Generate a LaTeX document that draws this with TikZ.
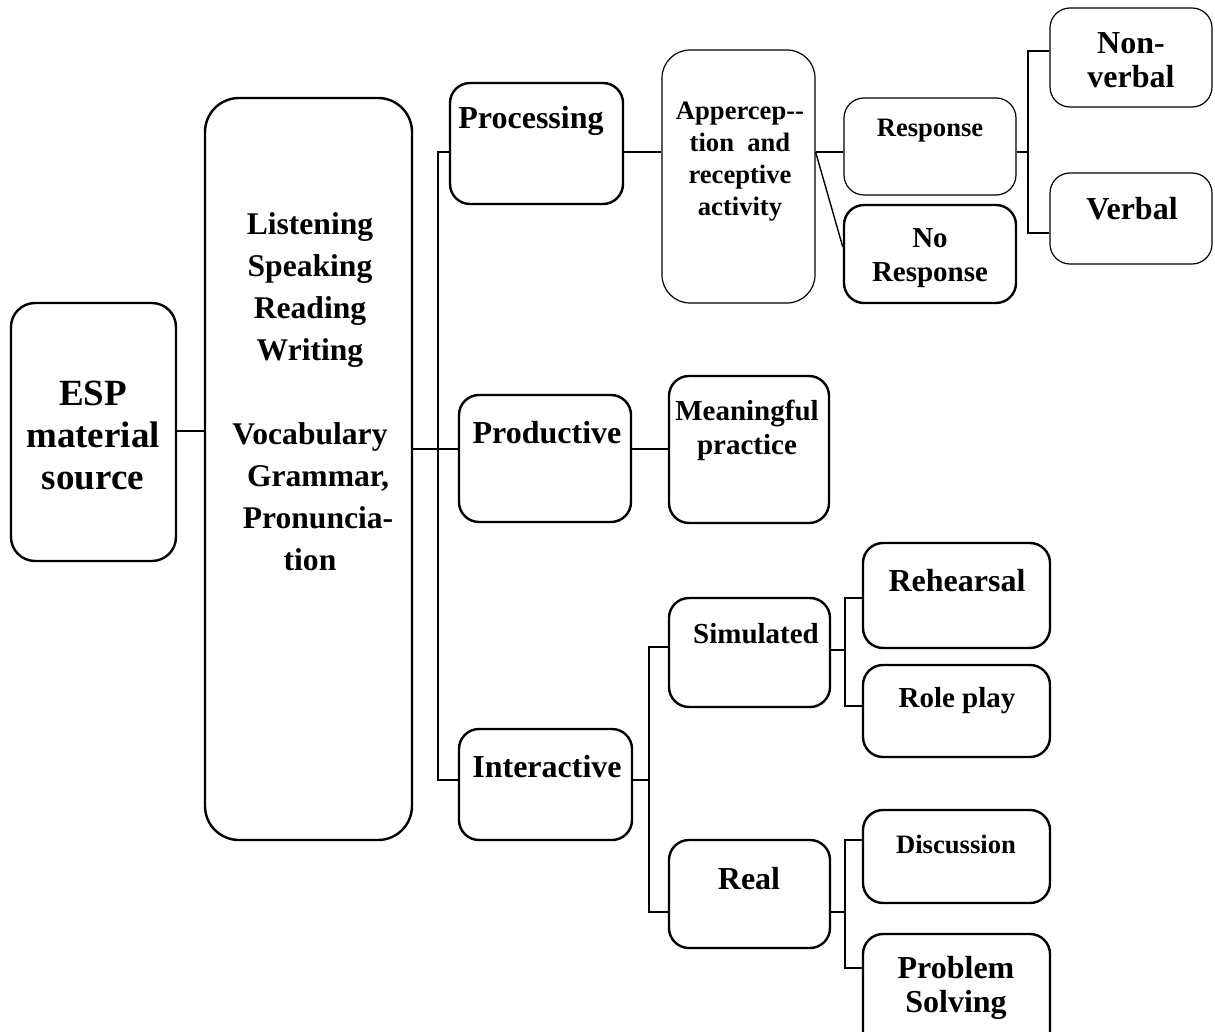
\documentclass[tikz,border=0pt]{standalone}
\usepackage{fontspec}
\setmainfont{Liberation Serif}
\usetikzlibrary{fit}

\begin{document}
\begin{tikzpicture}[x=0.5pt,y=-0.5pt]

          \tikzstyle{box} = [draw, rounded corners=10pt, line width=1.2pt, inner sep=0pt];
          \tikzstyle{thinBox} = [draw, rounded corners=10pt, line width=0.6pt, inner sep=0pt];
          \tikzstyle{edge} = [line width=0.7pt];

          \tikzstyle{espText} = [font=\fontsize{18.5}{21}\selectfont\bfseries, align=center];
          \tikzstyle{skillText} = [font=\fontsize{15.8}{21}\selectfont\bfseries, align=center];
          \tikzstyle{bigText} = [font=\fontsize{16}{17}\selectfont\bfseries, align=center];
          \tikzstyle{midText} = [font=\fontsize{14.5}{17}\selectfont\bfseries, align=center];
          \tikzstyle{smallText} = [font=\fontsize{13.3}{16}\selectfont\bfseries, align=center];

          \clip (0,0) rectangle (1215,1032);

          % boxes
          \node[box, rounded corners=12pt, fit={(11,303) (176,561)}] (esp) {};
          \node[box, rounded corners=17pt, fit={(205,98) (412,840)}] (skills) {};
          \node[box, fit={(450,83) (623,204)}] (proc) {};
          \node[thinBox, rounded corners=14pt, fit={(662,50) (815,303)}] (apper) {};
          \node[thinBox, fit={(844,98) (1016,195)}] (resp) {};
          \node[box, fit={(844,205) (1016,303)}] (noresp) {};
          \node[thinBox, fit={(1050,8) (1212,107)}] (nonverb) {};
          \node[thinBox, fit={(1050,173) (1212,264)}] (verb) {};
          \node[box, fit={(459,395) (631,522)}] (prod) {};
          \node[box, fit={(669,376) (829,523)}] (mean) {};
          \node[box, fit={(459,729) (632,840)}] (inter) {};
          \node[box, fit={(669,598) (830,707)}] (sim) {};
          \node[box, fit={(669,840) (830,948)}] (real) {};
          \node[box, fit={(863,543) (1050,648)}] (reh) {};
          \node[box, fit={(863,665) (1050,757)}] (role) {};
          \node[box, fit={(863,810) (1050,903)}] (disc) {};
          \node[box, fit={(863,934) (1050,1062)}] (prob) {};

          % texts
          \node[espText] (espT) at (93,435) {ESP\\material\\source};
          \node[skillText] (skillsT) at (310,392) {Listening\\Speaking\\Reading\\Writing\\[21pt]Vocabulary\\\hspace*{8pt}Grammar,\\\hspace*{8pt}Pronuncia-\\tion};
          \node[bigText] (procT) at (531,121) {Processing};
          \node[smallText] (apperT) at (740,162) {Appercep-{}-\\tion\ \ and\\receptive\\activity};
          \node[smallText] (respT) at (930,131) {Response};
          \node[midText] (norespT) at (930,258) {No\\Response};
          \node[bigText] (nonverbT) at (1131,60) {Non-\\verbal};
          \node[bigText] (verbT) at (1132,209) {Verbal};
          \node[bigText] (prodT) at (547,433) {Productive};
          \node[midText] (meanT) at (747,430) {Meaningful\\practice};
          \node[bigText] (interT) at (547,767) {Interactive};
          \node[midText] (simT) at (756,634) {Simulated};
          \node[bigText] (realT) at (749,879) {Real};
          \node[bigText] (rehT) at (957,581) {Rehearsal};
          \node[midText] (roleT) at (957,701) {Role play};
          \node[smallText] (discT) at (956,844) {Discussion};
          \node[bigText] (probT) at (956,988) {Problem\\Solving};

          % connectors
          \coordinate (busL) at (438,449);
          \coordinate (busR) at (1028,152);
          \coordinate (busI) at (649,780);
          \coordinate (busS) at (845,650);
          \coordinate (busE) at (845,912);

          \draw[edge] (esp.east |- 0,431) -- (skills.west |- 0,431);
          \draw[edge] (skills.east |- busL) -- (prod.west |- busL);
          \draw[edge] (proc.west |- 0,152) -| (busL) |- (inter.west |- 0,780);
          \draw[edge] (proc.east |- 0,152) -- (apper.west |- 0,152);
          \draw[edge] (apper.east |- 0,152) -- (resp.west |- 0,152);
          \draw[edge] (apper.east |- 0,152) -- (noresp.west |- 0,247);
          \draw[edge] (resp.east |- busR) -- (busR);
          \draw[edge] (nonverb.west |- 0,51) -| (busR) |- (verb.west |- 0,233);
          \draw[edge] (prod.east |- busL) -- (mean.west |- busL);
          \draw[edge] (inter.east |- busI) -- (busI);
          \draw[edge] (sim.west |- 0,647) -| (busI) |- (real.west |- 0,912);
          \draw[edge] (sim.east |- busS) -- (busS);
          \draw[edge] (reh.west |- 0,598) -| (busS) |- (role.west |- 0,706);
          \draw[edge] (real.east |- busE) -- (busE);
          \draw[edge] (disc.west |- 0,840) -| (busE) |- (prob.west |- 0,968);
        \end{tikzpicture}
\end{document}
